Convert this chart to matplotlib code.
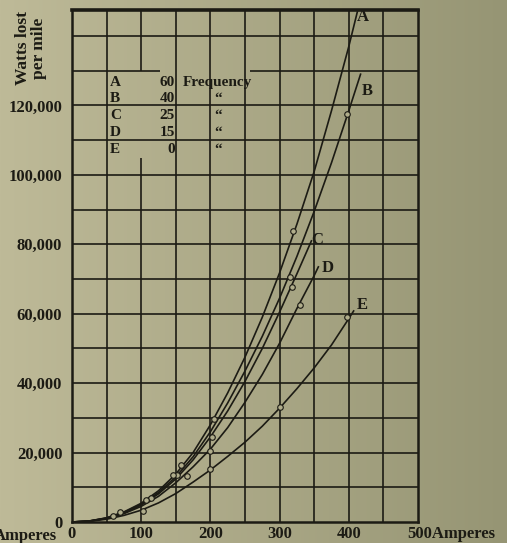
import numpy as np
import matplotlib.pyplot as plt

# Kurven (Watts lost per mile gegen Amperes)
A_x = [0, 25, 50, 75, 100, 125, 150, 175, 200, 225, 250, 275, 300, 325, 350, 375, 400, 413]
A_y = [0, 300, 1200, 2900, 5400, 9000, 13800, 20000, 28000, 37200, 47500, 59000, 71800, 85800, 101000, 118500, 137000, 147500]
B_x = [0, 25, 50, 75, 100, 125, 150, 175, 200, 225, 250, 275, 300, 325, 350, 375, 400, 417]
B_y = [0, 280, 1150, 2750, 5100, 8500, 13000, 18800, 26000, 34300, 43500, 53500, 64500, 76500, 89500, 103500, 118500, 129000]
C_x = [0, 25, 50, 75, 100, 125, 150, 175, 200, 225, 250, 275, 300, 325, 346]
C_y = [0, 260, 1100, 2600, 4900, 8100, 12400, 17900, 24500, 32000, 40500, 50000, 60500, 71500, 81000]
D_x = [0, 25, 50, 75, 100, 125, 150, 175, 200, 225, 250, 275, 300, 325, 350, 356]
D_y = [0, 240, 1000, 2400, 4500, 7400, 11300, 15900, 21000, 27200, 34500, 42500, 51500, 61500, 71000, 73500]
E_x = [0, 25, 50, 75, 100, 125, 150, 175, 200, 225, 250, 275, 300, 325, 350, 375, 400, 407]
E_y = [0, 200, 800, 1900, 3400, 5500, 8200, 11500, 15000, 18900, 23000, 27600, 32800, 38400, 44400, 51000, 58600, 60800]

# Messpunkte (Kreise)
A_px = [70, 114, 158, 205, 320]
A_py = [2900, 6900, 16400, 29700, 83800]
B_px = [59, 107, 152, 315, 398]
B_py = [1700, 6300, 13500, 70600, 117500]
C_px = [146, 202, 318]
C_py = [13500, 24500, 67700]
D_px = [166, 200, 329]
D_py = [13200, 20400, 62500]
E_px = [102, 200, 300, 398]
E_py = [3200, 15300, 33100, 59000]

kurven = ['A', 'B', 'C', 'D', 'E']
frequenz = ['60', '40', '25', '15', '0']
x_ticks = [0, 100, 200, 300, 400]
y_ticks = [0, 20000, 40000, 60000, 80000, 100000, 120000]
y_tick_labels = ['0', '20,000', '40,000', '60,000', '80,000', '100,000', '120,000']

ink = '#1c1b14'
paper = '#b0ad8b'
font = 'Liberation Serif'
xmax, ymax = 500, 147500

fig = plt.figure(figsize=(5.07, 5.43), dpi=100)

# Papierhintergrund mit leichtem Verlauf
bg = fig.add_axes([0, 0, 1, 1])
grad = np.linspace(0, 1, 256)
left = np.array([190, 186, 152]) / 255
right = np.array([150, 149, 116]) / 255
img = left[None, :] * (1 - grad[:, None]) + right[None, :] * grad[:, None]
bg.imshow(img[None, :, :], aspect='auto', extent=[0, 1, 0, 1])
bg.axis('off')

ax = fig.add_axes([72 / 507, 1 - 522 / 543, 346 / 507, 512 / 543])
ax.set_facecolor('none')
ax.set_xlim(0, xmax)
ax.set_ylim(0, ymax)

# Gitter (mit Lücken wie im Original beim Legendenfeld)
for xv in range(50, xmax, 50):
    if xv == 100:
        ax.vlines([xv, xv], [0, 130000], [105000, ymax], color=ink, lw=1.2, zorder=1)
    else:
        ax.vlines(xv, 0, ymax, color=ink, lw=1.2, zorder=1)
for yv in range(10000, 150000, 10000):
    if yv == 130000:
        ax.hlines([yv, yv], [0, 257], [127, xmax], color=ink, lw=1.2, zorder=1)
    else:
        ax.hlines(yv, 0, xmax, color=ink, lw=1.2, zorder=1)

for s in ax.spines.values():
    s.set_linewidth(1.8)
    s.set_color(ink)
ax.spines['top'].set_linewidth(2.6)

# Kurven und Punkte
for xs, ys in [(A_x, A_y), (B_x, B_y), (C_x, C_y), (D_x, D_y), (E_x, E_y)]:
    ax.plot(xs, ys, color=ink, lw=1.2, zorder=3, clip_on=True)
for xs, ys in [(A_px, A_py), (B_px, B_py), (C_px, C_py), (D_px, D_py), (E_px, E_py)]:
    ax.plot(xs, ys, 'o', ms=4, mfc=paper, mec=ink, mew=0.8, zorder=4)

# Kurvenbuchstaben
lab_x = [421, 427, 354, 370, 420]
lab_y = [145400, 124100, 81200, 73200, 62500]
for k, lx, ly in zip(kurven, lab_x, lab_y):
    ax.text(lx, ly, k, fontsize=12, fontweight='bold', family=font, color=ink,
            ha='center', va='center', zorder=5)

# Legendenfeld
row_y = [126700, 122100, 117200, 112300, 107400]
for k, f, ry in zip(kurven, frequenz, row_y):
    ax.text(55, ry, k, fontsize=11, family=font, fontweight='bold', color=ink, ha='left', va='center')
    ax.text(149, ry, f, fontsize=11, family=font, fontweight='bold', color=ink, ha='right', va='center')
    if k == 'A':
        ax.text(160, ry, 'Frequency', fontsize=11, family=font, fontweight='bold', color=ink, ha='left', va='center')
    else:
        ax.text(211, ry, '\u201c', fontsize=11, family=font, fontweight='bold', color=ink, ha='center', va='center')

# Achsenbeschriftung
ax.set_xticks(x_ticks)
ax.set_xticklabels([str(v) for v in x_ticks])
ax.set_yticks(y_ticks)
ax.set_yticklabels(y_tick_labels)
ax.tick_params(axis='y', length=0, pad=7, labelcolor=ink)
ax.tick_params(axis='x', length=0, pad=3, labelcolor=ink)
for t in ax.get_xticklabels() + ax.get_yticklabels():
    t.set_fontfamily(font)
    t.set_fontweight('bold')
    t.set_fontsize(12)

ax.annotate('500Amperes', xy=(500, 0), xytext=(-8, -3), textcoords='offset points',
            fontsize=12, family=font, fontweight='bold', color=ink, ha='left', va='top',
            annotation_clip=False)
fig.text(57 / 507, 1 - 536 / 543, 'Amperes', fontsize=12, family=font, fontweight='bold',
         color=ink, ha='right', va='center')
fig.text(31 / 507, 1 - 48 / 543, 'Watts lost\nper mile', fontsize=12.5, family=font, fontweight='bold',
         color=ink, ha='center', va='center', rotation=90, linespacing=1.0)

fig.savefig('out.png', dpi=100)
